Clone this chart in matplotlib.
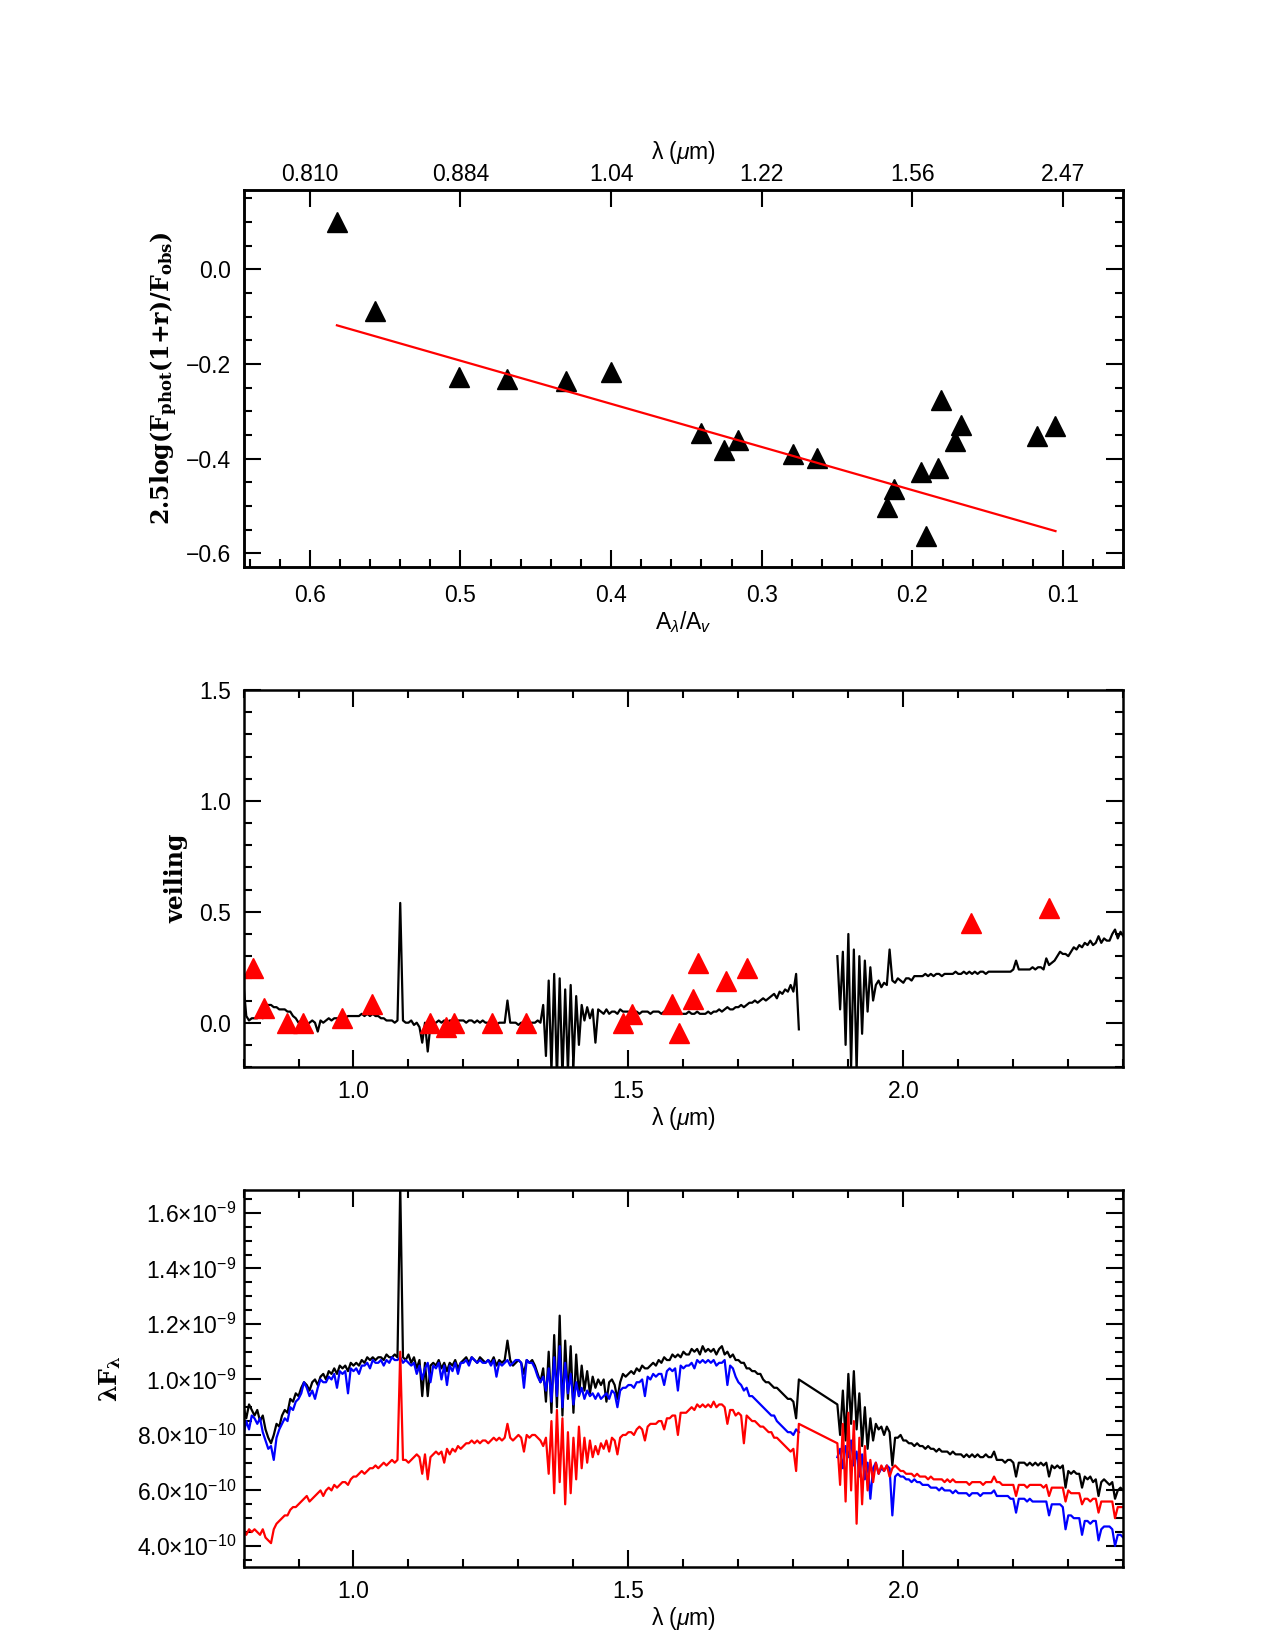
import numpy as np
import matplotlib
matplotlib.use('Agg')
import matplotlib.pyplot as plt
from matplotlib import font_manager
from matplotlib.ticker import MultipleLocator, FixedLocator

# ---- top panel: photometric excess vs extinction ----
av_ratio = [0.582, 0.557, 0.501, 0.469, 0.430, 0.400, 0.340, 0.325, 0.316, 0.279, 0.263,
            0.217, 0.212, 0.194, 0.191, 0.183, 0.181, 0.172, 0.168, 0.117, 0.105]
mag_excess = [0.100, -0.089, -0.227, -0.232, -0.236, -0.216, -0.346, -0.381, -0.361, -0.390, -0.399,
              -0.502, -0.464, -0.428, -0.564, -0.419, -0.276, -0.363, -0.330, -0.352, -0.332]
fit_coef = [0.912, -0.649]      # slope, intercept
fit_ends = [0.582, 0.105]
av_ticks = [0.6, 0.5, 0.4, 0.3, 0.2, 0.1]
lam_labels = ['0.810', '0.884', '1.04', '1.22', '1.56', '2.47']

# ---- middle panel: veiling measured in lines ----
veil_wl = [0.817, 0.837, 0.879, 0.908, 0.979, 1.033, 1.140, 1.169, 1.183, 1.252, 1.313,
           1.490, 1.506, 1.579, 1.592, 1.617, 1.627, 1.677, 1.715, 2.123, 2.265]
veil_val = [0.248, 0.067, 0.0, 0.0, 0.019, 0.086, 0.0, -0.019, 0.0, 0.0, 0.0,
            0.0, 0.038, 0.086, -0.048, 0.105, 0.267, 0.186, 0.248, 0.448, 0.519]

# wavelength grids of the two spectral segments (um)
wl_a = np.round(np.arange(0.800, 1.8101, 0.005), 3)   # 203 pts
wl_b = np.round(np.arange(1.880, 2.4001, 0.005), 3)   # 105 pts

veil_a = [0.17, 0.03, 0.01, 0.02, 0.02, 0.02, 0.03, 0.02, 0.07, 0.08,
          0.08, 0.07, 0.07, 0.06, 0.06, 0.06, 0.05, 0.05, 0.03, 0.02,
          0.00, 0.01, 0.00, -0.01, 0.00, 0.01, 0.00, -0.04, 0.01, 0.00,
          0.01, 0.02, 0.01, 0.02, 0.02, 0.02, 0.03, 0.02, 0.03, 0.03,
          0.03, 0.03, 0.03, 0.04, 0.03, 0.04, 0.03, 0.04, 0.03, 0.03,
          0.02, 0.02, 0.01, 0.01, 0.01, 0.00, 0.01, 0.54, 0.01, 0.00,
          0.00, 0.01, -0.01, 0.00, -0.02, -0.09, 0.00, -0.13, -0.01, 0.00,
          0.00, 0.01, 0.00, 0.01, 0.00, 0.01, 0.01, 0.00, 0.01, 0.01,
          0.01, 0.00, 0.01, 0.01, 0.00, 0.01, 0.00, 0.01, 0.00, 0.00,
          0.00, 0.00, -0.01, 0.00, 0.00, 0.00, 0.10, 0.00, 0.00, 0.00,
          -0.01, 0.00, 0.00, -0.01, 0.00, 0.00, 0.00, 0.01, 0.00, 0.08,
          -0.15, 0.19, -0.22, 0.22, -0.25, 0.20, -0.25, 0.15, -0.22, 0.17,
          -0.20, 0.12, -0.10, 0.08, 0.01, 0.07, 0.02, 0.06, -0.09, 0.06,
          0.05, 0.04, 0.06, 0.04, 0.05, 0.05, 0.04, 0.06, 0.05, 0.05,
          0.05, 0.04, 0.05, 0.05, 0.04, 0.05, 0.05, 0.05, 0.04, 0.05,
          0.05, 0.05, 0.04, 0.05, 0.05, 0.04, 0.05, 0.04, 0.05, 0.04,
          0.04, 0.04, 0.05, 0.04, 0.04, 0.05, 0.04, 0.04, 0.04, 0.05,
          0.04, 0.05, 0.05, 0.06, 0.05, 0.06, 0.07, 0.06, 0.06, 0.07,
          0.07, 0.08, 0.07, 0.08, 0.09, 0.09, 0.10, 0.09, 0.10, 0.11,
          0.10, 0.11, 0.12, 0.13, 0.11, 0.14, 0.13, 0.15, 0.14, 0.17,
          0.14, 0.22, -0.03]
veil_b = [0.30, 0.06, 0.32, -0.10, 0.40, -0.20, 0.33, -0.22, 0.30, -0.05,
          0.28, 0.05, 0.25, 0.10, 0.17, 0.19, 0.16, 0.18, 0.17, 0.33,
          0.19, 0.18, 0.20, 0.19, 0.18, 0.20, 0.20, 0.19, 0.21, 0.21,
          0.21, 0.21, 0.22, 0.21, 0.22, 0.21, 0.22, 0.22, 0.21, 0.22,
          0.22, 0.22, 0.22, 0.23, 0.22, 0.22, 0.23, 0.22, 0.23, 0.22,
          0.23, 0.22, 0.23, 0.23, 0.22, 0.23, 0.23, 0.23, 0.23, 0.23,
          0.23, 0.23, 0.23, 0.23, 0.24, 0.28, 0.24, 0.24, 0.24, 0.24,
          0.24, 0.25, 0.24, 0.25, 0.25, 0.24, 0.29, 0.26, 0.27, 0.28,
          0.30, 0.32, 0.31, 0.31, 0.30, 0.32, 0.34, 0.33, 0.35, 0.34,
          0.36, 0.35, 0.37, 0.35, 0.36, 0.39, 0.36, 0.38, 0.37, 0.37,
          0.40, 0.42, 0.38, 0.41, 0.39]

# ---- bottom panel: lambda*F_lambda in units of 1e-10 ----
black_a = [9.0, 8.6, 9.1, 8.9, 8.7, 8.9, 8.5, 8.7, 8.2, 7.9,
           7.7, 8.0, 8.4, 8.3, 8.7, 8.9, 8.8, 9.3, 9.2, 9.5,
           9.4, 9.7, 9.9, 9.8, 9.6, 9.9, 10.0, 9.8, 10.1, 10.2,
           10.0, 10.3, 10.2, 10.4, 10.2, 10.5, 10.4, 10.5, 10.3, 10.6,
           10.5, 10.6, 10.5, 10.7, 10.6, 10.8, 10.7, 10.8, 10.7, 10.8,
           10.8, 10.7, 10.9, 10.8, 10.8, 10.9, 10.8, 17.0, 10.8, 10.7,
           10.9, 10.6, 10.8, 10.4, 10.7, 9.4, 10.6, 9.4, 10.5, 10.6,
           10.5, 10.7, 10.4, 10.6, 10.3, 10.6, 10.5, 10.7, 10.4, 10.6,
           10.7, 10.8, 10.6, 10.8, 10.7, 10.6, 10.8, 10.7, 10.6, 10.7,
           10.6, 10.8, 10.5, 10.7, 10.6, 10.7, 11.4, 10.7, 10.5, 10.6,
           10.7, 10.6, 10.2, 10.7, 10.6, 10.7, 10.5, 10.2, 9.9, 10.4,
           9.2, 11.0, 8.8, 11.6, 9.0, 12.3, 8.7, 11.4, 9.3, 11.2,
           8.8, 10.9, 9.4, 10.5, 9.6, 10.3, 9.5, 10.1, 9.7, 10.0,
           9.8, 10.0, 9.2, 9.9, 10.0, 9.8, 9.3, 9.9, 10.2, 10.1,
           10.2, 10.3, 10.2, 10.4, 10.3, 10.5, 10.4, 10.4, 10.5, 10.6,
           10.5, 10.7, 10.6, 10.8, 10.7, 10.7, 10.9, 10.8, 10.9, 10.8,
           11.0, 10.9, 10.9, 11.1, 11.0, 11.1, 10.9, 11.2, 11.0, 11.1,
           11.0, 11.1, 10.9, 11.1, 11.2, 10.9, 11.0, 10.8, 10.9, 10.7,
           10.7, 10.6, 10.6, 10.4, 10.4, 10.3, 10.3, 10.2, 10.2, 10.0,
           9.9, 9.9, 9.8, 9.7, 9.7, 9.6, 9.5, 9.4, 9.3, 9.3,
           9.2, 8.6, 10.0]
black_b = [9.1, 8.0, 9.6, 7.8, 10.2, 8.4, 10.3, 8.2, 9.5, 7.6,
           9.0, 7.5, 8.6, 7.8, 8.4, 8.2, 8.3, 8.0, 8.3, 8.1,
           6.9, 7.9, 7.9, 8.0, 7.8, 7.8, 7.7, 7.7, 7.6, 7.7,
           7.6, 7.6, 7.5, 7.6, 7.5, 7.5, 7.4, 7.5, 7.4, 7.4,
           7.4, 7.3, 7.4, 7.3, 7.3, 7.3, 7.2, 7.3, 7.2, 7.3,
           7.2, 7.3, 7.2, 7.2, 7.3, 7.2, 7.2, 7.4, 7.1, 7.1,
           7.1, 7.0, 7.1, 7.1, 7.0, 6.5, 7.0, 7.0, 7.0, 6.9,
           7.0, 6.9, 7.0, 6.9, 7.0, 6.9, 7.0, 6.5, 6.9, 6.8,
           6.9, 6.8, 6.9, 6.1, 6.7, 6.6, 6.7, 6.6, 6.6, 6.1,
           6.5, 6.4, 6.5, 6.3, 6.4, 5.8, 6.3, 6.4, 6.3, 6.2,
           6.3, 5.7, 6.0, 6.1, 6.0]
blue_a = [8.0, 8.5, 8.2, 8.7, 8.6, 8.4, 8.6, 8.1, 7.8, 7.5,
          7.6, 7.1, 7.9, 8.2, 8.4, 8.6, 8.5, 9.0, 8.9, 9.2,
          9.3, 9.5, 9.9, 9.7, 9.4, 9.6, 9.3, 9.7, 10.0, 9.9,
          9.9, 10.1, 10.0, 10.2, 9.7, 10.3, 10.2, 10.3, 9.5, 10.4,
          10.3, 10.4, 10.2, 10.5, 10.5, 10.6, 10.4, 10.7, 10.6, 10.6,
          10.7, 10.5, 10.7, 10.6, 10.8, 10.7, 10.7, 10.8, 10.6, 10.7,
          10.6, 10.5, 10.6, 10.2, 10.5, 10.0, 10.4, 10.6, 9.9, 10.5,
          10.4, 10.6, 10.0, 10.5, 9.8, 10.5, 10.3, 10.6, 10.2, 10.6,
          10.6, 10.7, 10.5, 10.8, 10.7, 10.6, 10.7, 10.6, 10.6, 10.7,
          10.5, 10.7, 10.1, 10.6, 10.5, 10.6, 10.7, 10.5, 10.6, 10.7,
          10.7, 10.6, 9.7, 10.7, 10.6, 10.6, 10.4, 10.1, 9.9, 10.1,
          9.6, 10.4, 9.2, 10.8, 9.4, 11.2, 9.0, 10.6, 9.5, 10.2,
          9.1, 9.9, 9.4, 9.7, 9.3, 9.6, 9.4, 9.5, 9.3, 9.5,
          9.3, 9.4, 9.5, 9.3, 9.6, 9.5, 9.0, 9.6, 9.7, 9.7,
          9.8, 9.8, 9.7, 9.9, 9.9, 10.0, 9.4, 10.1, 10.0, 10.2,
          10.1, 10.2, 10.2, 9.8, 10.3, 10.4, 10.3, 10.4, 9.6, 10.5,
          10.4, 10.5, 10.5, 10.6, 10.4, 10.7, 10.6, 10.7, 10.6, 10.7,
          10.6, 10.7, 10.5, 10.6, 10.6, 10.7, 9.8, 10.5, 10.4, 10.1,
          9.9, 9.8, 9.6, 9.7, 9.4, 9.4, 9.3, 9.2, 9.1, 9.0,
          8.9, 8.8, 8.7, 8.7, 8.5, 8.4, 8.3, 8.2, 8.1, 8.1,
          8.0, 8.2, 8.1]
blue_b = [7.2, 7.5, 6.8, 7.6, 7.2, 7.8, 6.9, 7.4, 6.5, 7.3,
          6.4, 7.0, 5.7, 6.8, 7.0, 6.6, 6.8, 6.7, 6.9, 6.8,
          5.1, 6.5, 6.6, 6.5, 6.5, 6.4, 6.4, 6.3, 6.4, 6.3,
          6.3, 6.2, 6.2, 6.2, 6.1, 6.1, 6.1, 6.0, 6.1, 6.0,
          6.0, 6.0, 5.9, 6.0, 5.9, 5.9, 5.9, 5.9, 5.8, 5.9,
          5.9, 5.9, 5.8, 5.9, 5.9, 5.9, 5.9, 6.0, 5.8, 5.8,
          5.8, 5.8, 5.8, 5.7, 5.7, 5.2, 5.7, 5.7, 5.7, 5.6,
          5.7, 5.6, 5.6, 5.6, 5.6, 5.6, 5.6, 5.1, 5.5, 5.5,
          5.5, 5.5, 5.4, 4.6, 5.1, 5.1, 5.0, 5.0, 5.0, 4.4,
          4.9, 4.9, 4.8, 4.9, 4.9, 4.2, 4.6, 4.7, 4.7, 4.7,
          4.6, 4.0, 4.4, 4.4, 4.3]
red_a = [4.6, 4.4, 4.6, 4.5, 4.6, 4.5, 4.4, 4.6, 4.3, 4.2,
         4.1, 4.6, 4.8, 4.9, 5.0, 5.1, 5.1, 5.3, 5.4, 5.4,
         5.5, 5.6, 5.7, 5.8, 5.6, 5.7, 5.8, 5.9, 6.0, 5.8,
         6.0, 6.1, 6.0, 6.2, 6.1, 6.2, 6.3, 6.3, 6.2, 6.4,
         6.5, 6.5, 6.6, 6.7, 6.6, 6.7, 6.8, 6.8, 6.9, 6.8,
         6.9, 7.0, 6.9, 7.0, 7.1, 7.0, 7.1, 11.0, 7.1, 7.1,
         7.0, 7.1, 7.2, 7.3, 7.2, 6.6, 7.3, 6.4, 7.2, 7.3,
         7.4, 7.3, 7.4, 7.0, 7.5, 7.3, 7.5, 7.4, 7.6, 7.5,
         7.6, 7.7, 7.7, 7.8, 7.7, 7.8, 7.7, 7.8, 7.8, 7.7,
         7.8, 7.9, 7.8, 7.9, 7.8, 7.9, 8.4, 7.9, 7.8, 7.9,
         8.0, 7.9, 7.4, 8.0, 7.9, 8.0, 8.0, 7.9, 7.8, 7.6,
         7.9, 6.6, 8.5, 5.9, 8.9, 6.3, 8.6, 5.5, 8.1, 5.9,
         7.9, 6.4, 8.3, 6.8, 7.9, 7.0, 7.8, 7.2, 7.6, 7.3,
         7.7, 7.5, 7.8, 7.4, 7.9, 7.8, 7.3, 7.9, 8.0, 8.0,
         8.1, 8.1, 8.0, 8.2, 8.3, 8.2, 7.8, 8.3, 8.4, 8.4,
         8.4, 8.5, 8.5, 8.2, 8.6, 8.6, 8.7, 8.7, 8.0, 8.8,
         8.8, 8.8, 8.9, 9.0, 8.9, 9.1, 9.0, 9.1, 9.0, 9.1,
         9.0, 9.2, 9.0, 9.1, 9.1, 9.0, 8.4, 8.9, 8.9, 8.7,
         8.8, 8.7, 7.7, 8.7, 8.6, 8.5, 8.5, 8.4, 8.3, 8.3,
         8.2, 8.1, 8.1, 7.9, 7.9, 7.8, 7.7, 7.6, 7.5, 7.4,
         7.5, 6.7, 8.4]
red_b = [7.7, 6.2, 8.4, 5.6, 8.8, 6.0, 8.5, 4.8, 7.9, 5.5,
         7.6, 6.0, 7.1, 6.3, 7.0, 6.6, 6.9, 6.7, 6.9, 6.5,
         6.8, 6.9, 6.8, 6.7, 6.7, 6.6, 6.6, 6.6, 6.5, 6.6,
         6.5, 6.5, 6.5, 6.4, 6.5, 6.4, 6.4, 6.4, 6.4, 6.3,
         6.4, 6.3, 6.4, 6.3, 6.3, 6.3, 6.3, 6.3, 6.2, 6.3,
         6.3, 6.3, 6.3, 6.2, 6.3, 6.3, 6.3, 6.5, 6.3, 6.3,
         6.2, 6.2, 6.2, 6.2, 6.2, 5.8, 6.2, 6.2, 6.2, 6.1,
         6.2, 6.2, 6.2, 6.2, 6.2, 6.1, 6.2, 5.8, 6.1, 6.1,
         6.1, 6.1, 6.1, 5.6, 6.0, 5.9, 5.9, 5.9, 5.9, 5.5,
         5.7, 5.7, 5.6, 5.7, 5.7, 5.2, 5.6, 5.6, 5.6, 5.6,
         5.6, 5.0, 5.4, 5.4, 5.4]
flux_ticks = [4e-10, 6e-10, 8e-10, 1e-9, 1.2e-9, 1.4e-9, 1.6e-9]

# fonts
names = {f.name for f in font_manager.fontManager.ttflist}
tick_font = 'Liberation Sans Narrow' if 'Liberation Sans Narrow' in names else 'Liberation Sans'
plt.rcParams['font.family'] = [tick_font, 'DejaVu Sans']
plt.rcParams['mathtext.fontset'] = 'custom'
plt.rcParams['mathtext.rm'] = tick_font
plt.rcParams['mathtext.it'] = tick_font + ':italic'
plt.rcParams['mathtext.bf'] = 'DejaVu Serif:bold'
plt.rcParams['axes.linewidth'] = 1.8

lab_font = dict(family='DejaVu Serif', weight='bold', size=17)
FS = 16.5
LW = 1.6


def style(ax, top=True):
    ax.tick_params(which='both', direction='in', right=True, top=top,
                   width=1.5, labelsize=FS, pad=9)
    ax.tick_params(which='major', length=12)
    ax.tick_params(which='minor', length=6)


fig = plt.figure(figsize=(12.75, 16.5), dpi=100)
ax1 = fig.add_axes([0.191, 0.6564, 0.690, 0.2285])
ax2 = fig.add_axes([0.191, 0.3533, 0.690, 0.2285])
ax3 = fig.add_axes([0.191, 0.0503, 0.690, 0.2285])

# --- top panel
ax1.plot(av_ratio, mag_excess, '^', color='black', ms=15)
fx = np.array(fit_ends)
ax1.plot(fx, fit_coef[0] * fx + fit_coef[1], color='red', lw=1.6)
ax1.set_xlim(0.644, 0.060)
ax1.set_ylim(-0.629, 0.168)
ax1.xaxis.set_major_locator(MultipleLocator(0.1))
ax1.xaxis.set_minor_locator(MultipleLocator(0.02))
ax1.yaxis.set_major_locator(MultipleLocator(0.2))
ax1.yaxis.set_minor_locator(MultipleLocator(0.05))
style(ax1, top=False)
ax1.tick_params(axis='x', pad=12)
ax1.set_xticks(av_ticks, ['%.1f' % v for v in av_ticks])
ax1.set_xlabel(r'A$_\lambda$/A$_v$', fontsize=FS, labelpad=2)
ax1.set_ylabel(r'2.5log(F$_{\mathbf{phot}}$(1+r)/F$_{\mathbf{obs}}$)', fontdict=lab_font, labelpad=4)
ax1t = ax1.twiny()
ax1t.set_xlim(ax1.get_xlim())
ax1t.xaxis.set_major_locator(FixedLocator(av_ticks))
ax1t.set_xticklabels(lam_labels)
ax1t.tick_params(direction='in', length=12, width=1.5, labelsize=FS, pad=3)
ax1t.set_xlabel('λ ($\\mu$m)', fontsize=FS, labelpad=3)

# --- middle panel
gap = [np.nan]
ax2.plot(np.concatenate([wl_a, [1.85], wl_b]), np.concatenate([veil_a, gap, veil_b]),
         color='black', lw=LW)
ax2.plot(veil_wl, veil_val, '^', color='red', ms=15)
ax2.set_xlim(0.8, 2.4)
ax2.set_ylim(-0.2, 1.5)
ax2.xaxis.set_major_locator(MultipleLocator(0.5))
ax2.xaxis.set_minor_locator(MultipleLocator(0.1))
ax2.yaxis.set_major_locator(MultipleLocator(0.5))
ax2.yaxis.set_minor_locator(MultipleLocator(0.1))
style(ax2)
ax2.xaxis.set_major_formatter(lambda v, p: '%.1f' % v)
ax2.yaxis.set_major_formatter(lambda v, p: '%.1f' % v)
ax2.set_xlabel('λ ($\\mu$m)', fontsize=FS, labelpad=2)
ax2.set_ylabel('veiling', fontdict=lab_font, labelpad=8)

# --- bottom panel
wl_all = np.concatenate([wl_a, wl_b])
ax3.plot(wl_all, np.array(black_a + black_b) * 1e-10, color='black', lw=LW)
ax3.plot(np.concatenate([wl_a, [1.85], wl_b]), np.array(blue_a + gap + blue_b) * 1e-10,
         color='blue', lw=LW)
ax3.plot(wl_all, np.array(red_a + red_b) * 1e-10, color='red', lw=LW)
ax3.set_xlim(0.8, 2.4)
ax3.set_ylim(3.24e-10, 1.683e-9)
ax3.xaxis.set_major_locator(MultipleLocator(0.5))
ax3.xaxis.set_minor_locator(MultipleLocator(0.1))
ax3.yaxis.set_minor_locator(MultipleLocator(0.5e-10))
style(ax3)
ax3.xaxis.set_major_formatter(lambda v, p: '%.1f' % v)
tl = []
for v in flux_ticks:
    e = int(np.floor(np.log10(v)))
    tl.append('%.1f$\\times$10$^{%d}$' % (v / 10 ** e, e))
ax3.set_yticks(flux_ticks, tl)
ax3.tick_params(axis='y', pad=5)
ax3.set_xlabel('λ ($\\mu$m)', fontsize=FS, labelpad=2)
ax3.set_ylabel('λF$_{\\mathbf{λ}}$', fontdict=lab_font, labelpad=10)

fig.savefig('out.png', dpi=100)
